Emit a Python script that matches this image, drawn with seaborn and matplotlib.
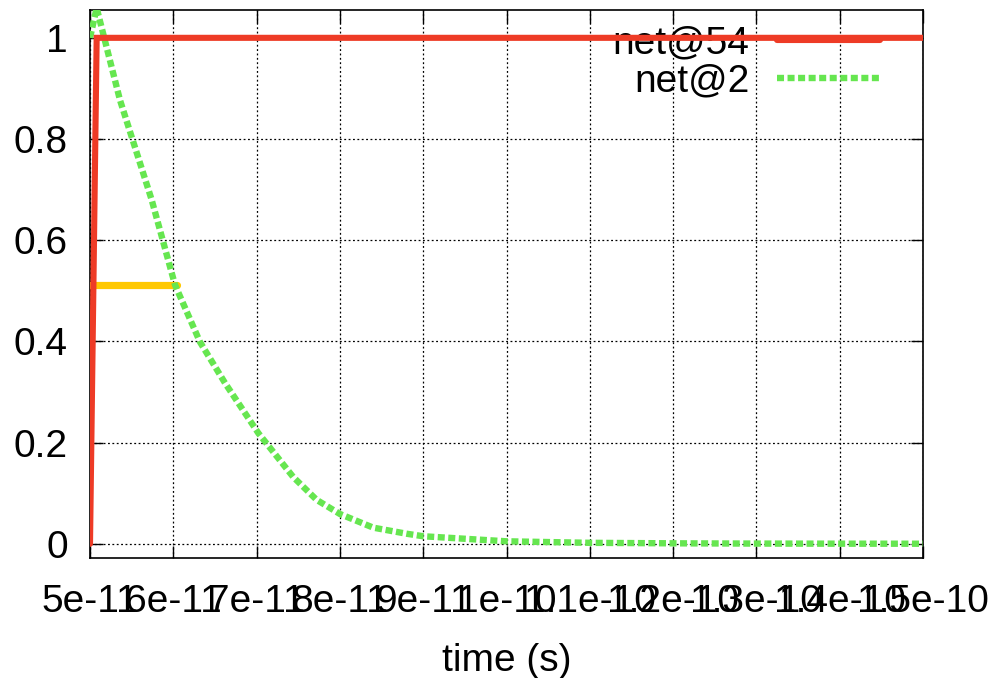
import matplotlib
matplotlib.use("Agg")
import matplotlib.pyplot as plt
import seaborn as sns
import pandas as pd

# net@54 (red)
red_t = [5.0e-11, 5.08e-11, 1.5e-10]
red_v = [0.0, 1.0, 1.0]

# net@2 (green dotted)
green_t = [5.0e-11, 5.08e-11, 5.36e-11, 5.74e-11, 6.02e-11, 6.32e-11, 6.62e-11,
           7.02e-11, 7.44e-11, 7.72e-11, 8.0e-11, 8.4e-11, 8.8e-11, 9.0e-11, 1.0e-10,
           1.1e-10, 1.2e-10, 1.3e-10, 1.4e-10, 1.5e-10]
green_v = [1.0, 1.059, 0.877, 0.68, 0.512, 0.399, 0.318,
           0.219, 0.132, 0.087, 0.059, 0.032, 0.020, 0.015, 0.005,
           0.002, 0.001, 0.0005, 0.0003, 0.0002]

# yellow marker line
yellow_t = [5.0e-11, 6.05e-11]
yellow_v = [0.512, 0.512]

xticks = [5e-11, 6e-11, 7e-11, 8e-11, 9e-11, 1e-10, 1.1e-10, 1.2e-10, 1.3e-10, 1.4e-10, 1.5e-10]
xtick_labels = ["5e-11", "6e-11", "7e-11", "8e-11", "9e-11", "1e-10",
                "1.1e-10", "1.2e-10", "1.3e-10", "1.4e-10", "1.5e-10"]
yticks = [0, 0.2, 0.4, 0.6, 0.8, 1]
ytick_labels = ["0", "0.2", "0.4", "0.6", "0.8", "1"]

sns.set_style("ticks")
plt.rcParams['font.family'] = ['Liberation Sans', 'DejaVu Sans']
plt.rcParams['text.color'] = 'black'
plt.rcParams['axes.labelcolor'] = 'black'

fig = plt.figure(figsize=(9.88, 6.78), dpi=100)
ax = fig.add_axes([90/988, 1-558/678, (923-90)/988, (558-10)/678])

red = "#EE3B26"
green = "#66E650"
yellow = "#FFC800"

df_r = pd.DataFrame({"t": red_t, "v": red_v})
df_g = pd.DataFrame({"t": green_t, "v": green_v})
df_y = pd.DataFrame({"t": yellow_t, "v": yellow_v})

sns.lineplot(data=df_r, x="t", y="v", ax=ax, color=red, lw=4.4, label="net@54",
             zorder=5, solid_joinstyle="miter")
sns.lineplot(data=df_g, x="t", y="v", ax=ax, color=green, lw=4.6, label="net@2",
             zorder=4, linestyle=(0, (1.1, 0.55)))
sns.lineplot(data=df_y, x="t", y="v", ax=ax, color=yellow, lw=5.2, zorder=3)

FS = 28
ax.set_xlim(5e-11, 1.5e-10)
ax.set_ylim(-0.028, 1.055)
ax.set_xticks(xticks)
ax.set_xticklabels(xtick_labels)
ax.set_yticks(yticks)
ax.set_yticklabels(ytick_labels)
ax.tick_params(axis="both", direction="in", length=9, width=1, labelsize=FS,
               top=True, right=True, colors="black", labelcolor="black")
ax.tick_params(axis="x", pad=19)
ax.tick_params(axis="y", pad=16)
ax.grid(True, color="black", linestyle=(0, (1.5, 2)), lw=0.9)
for s in ax.spines.values():
    s.set_linewidth(1.2)
    s.set_color("black")
ax.set_xlabel("time (s)", fontsize=FS, labelpad=16, color="black")
ax.set_ylabel("")

leg = ax.legend(loc="upper right", bbox_to_anchor=(0.99, 1.036), frameon=False,
                fontsize=FS, markerfirst=False, handlelength=2.65,
                handletextpad=0.7, labelspacing=0.05)
for t in leg.get_texts():
    t.set_color("black")
leg.set_zorder(2)

fig.savefig("out.png", dpi=100)
